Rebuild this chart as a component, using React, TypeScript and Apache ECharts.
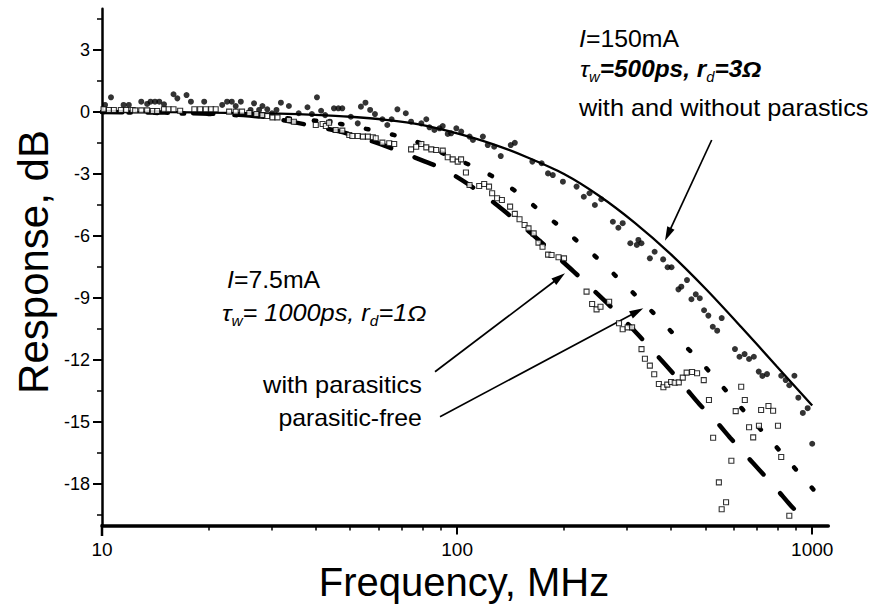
import React, { useEffect, useRef } from 'react';
import * as echarts from 'echarts';

const FONT = '"Liberation Sans", Arial, Helvetica, sans-serif';

// ---- axis ticks ----
const xMajorTicks = [10, 100, 1000];
const xMinorTicks = [20, 30, 40, 50, 60, 70, 80, 90, 200, 300, 400, 500, 600, 700, 800, 900];
const yMajorTicks = [-18, -15, -12, -9, -6, -3, 0, 3];
const yMinorTicks = [-19.5, -16.5, -13.5, -10.5, -7.5, -4.5, -1.5, 1.5, 4.5];
const X_MIN = 10;
const X_MAX = 1110;
const Y_MIN = -20;
const Y_MAX = 5;

// ---- I = 150 mA model (solid) ----
const fit150Freq = [10, 12.6, 15.8, 20, 25, 31.6, 39.8, 50, 63, 79.4, 100, 126, 158, 200, 251, 316, 398, 501, 631, 794, 1000];
const fit150Db = [0, -0.005, -0.01, -0.03, -0.05, -0.08, -0.14, -0.23, -0.38, -0.62, -1.03, -1.55, -2.2, -3.0, -4.05, -5.35, -6.85, -8.55, -10.4, -12.3, -14.2];

// ---- I = 7.5 mA, with parasitics model (dashed) ----
const withParFreq = [10, 15, 20, 25, 30, 38.7, 46.6, 55, 63, 72.5, 80, 89.4, 100, 111.5, 124, 138, 153, 170, 190, 213, 238, 265, 295, 326, 360, 398, 440, 482, 535, 588, 650, 712, 790, 865, 906];
const withParDb = [0, -0.03, -0.08, -0.15, -0.3, -0.65, -0.94, -1.3, -1.65, -2.06, -2.35, -2.69, -3.15, -3.68, -4.25, -4.89, -5.52, -6.2, -6.95, -7.72, -8.5, -9.26, -10.05, -10.84, -11.65, -12.48, -13.35, -14.15, -14.95, -15.77, -16.6, -17.34, -18.2, -18.99, -19.35];

// ---- I = 7.5 mA, parasitic-free model (dotted) ----
const parFreeFreq = [10, 20, 30, 40, 47, 54, 61, 70, 80, 90, 100, 117, 133, 151.5, 168.6, 200, 225, 254.7, 290, 330, 375, 424, 480, 539, 605, 679, 765, 856, 960, 1079];
const parFreeDb = [0, -0.1, -0.25, -0.42, -0.58, -0.78, -0.96, -1.22, -1.55, -1.95, -2.3, -2.81, -3.37, -4.02, -4.69, -5.7, -6.45, -7.24, -8.2, -9.13, -10.1, -11.06, -12.0, -12.98, -13.95, -14.93, -15.9, -16.87, -17.85, -18.85];

// ---- I = 150 mA measured (filled circles) ----
const meas150Freq = [10.2, 10.6, 11.5, 11.9, 12.9, 13.4, 13.7, 14.1, 14.5, 14.95, 15.9, 16.3, 17.3, 17.8, 19.4, 21.8, 22.5, 23.2, 23.8, 24.6, 26.2, 26.8, 27.7, 28.3, 29.2, 30.1, 31.0, 31.9, 33.6, 35.8, 37.9, 39.0, 40.3, 41.4, 42.5, 43.8, 45.0, 46.3, 47.5, 50.2, 52.5, 53.6, 55.2, 56.9, 58.7, 61.6, 63.6, 65.4, 67.9, 71.7, 74.2, 79.3, 81.9, 83.6, 86.3, 89.2, 91.1, 94.1, 96.2, 99.5, 102.7, 108.4, 110.8, 118.2, 122, 127.2, 132.7, 141.6, 145.4, 162.9, 173, 180.3, 186, 198.6, 217, 227.4, 236, 244.3, 254.7, 274.6, 284.5, 292.6, 307.4, 320.7, 324, 330.5, 349, 360, 380.4, 391.6, 401.6, 420, 428, 444, 457, 470, 482.5, 496, 510, 524.8, 540, 556, 606, 624, 645, 664, 685, 707, 724, 746, 818, 842, 862, 891, 914, 941, 971, 1000];
const meas150Db = [0.34, 0.71, 0.34, 0.34, 0.5, 0.39, 0.5, 0.5, 0.5, 0.37, 0.86, 0.66, 0.82, 0.5, 0.5, 0.34, 0.5, 0.5, 0.29, 0.5, 0.1, 0.42, 0.1, 0.29, 0.13, -0.06, 0.1, 0.45, 0.29, -0.06, 0.23, -0.1, 0.71, 0.06, -0.15, -0.47, 0.18, 0.18, 0.18, -0.23, -0.55, 0.26, 0.45, 0.1, -0.1, -0.35, -0.63, -0.35, 0.13, -0.06, -0.47, -0.55, -0.35, -0.74, -0.87, -0.79, -0.68, -1.06, -1.03, -0.79, -0.95, -1.19, -1.35, -1.19, -1.6, -1.68, -2.13, -1.6, -1.49, -2.4, -2.48, -2.97, -3.05, -3.37, -3.61, -4.1, -3.93, -4.5, -4.22, -5.31, -5.6, -5.38, -6.35, -6.43, -6.19, -6.35, -7.08, -6.76, -7.13, -7.51, -7.51, -8.58, -8.45, -8.13, -9.06, -8.82, -9.01, -9.59, -9.85, -10.39, -10.58, -9.97, -11.47, -11.84, -11.71, -11.95, -11.84, -12.56, -12.77, -12.68, -12.76, -12.97, -13.22, -12.76, -13.82, -14.56, -14.33, -16.05];

// ---- I = 7.5 mA measured (open squares) ----
const meas75Freq = [10.1, 10.46, 10.8, 11.3, 11.7, 12.2, 12.4, 12.9, 13.4, 13.9, 14.3, 14.95, 15.4, 15.9, 16.6, 18.2, 18.9, 19.6, 20.3, 20.9, 22.8, 23.8, 24.8, 26.0, 27.2, 28.3, 29.2, 30.2, 31.2, 33.6, 34.7, 40, 41.8, 42.7, 43.6, 45.5, 47.5, 49.7, 50.7, 52.5, 54.3, 56.1, 57.9, 59.0, 61.6, 64.4, 66.5, 74.2, 76.7, 79.3, 81.9, 84.6, 87.3, 91.1, 94.1, 97.2, 100.4, 102.6, 105.9, 108.4, 115.4, 119.2, 123, 125.5, 129.6, 133.7, 141, 145.4, 149.9, 154.9, 158.9, 164.3, 169.5, 174, 180.4, 184.5, 193, 200, 231.5, 240, 247, 253.4, 268, 285.7, 292.6, 302.2, 311, 330.6, 338, 349, 359, 370, 381, 390.6, 400.5, 410, 421, 432, 443, 459, 474, 495, 512, 526, 546, 556, 572, 592, 609, 631, 646, 664, 682, 708, 718, 753, 776, 801, 818, 862];
const meas75Db = [0.13, 0.1, 0.1, 0.1, 0.1, 0.1, 0.08, 0.08, 0.08, 0.05, 0.05, 0.13, 0.13, 0.13, 0.06, 0.13, 0.13, 0.13, 0.13, 0.13, 0.02, 0.02, 0.02, -0.05, -0.1, -0.15, -0.19, -0.26, -0.26, -0.39, -0.47, -0.63, -0.58, -0.68, -0.52, -0.87, -0.9, -1.11, -1.16, -1.16, -1.19, -1.19, -1.22, -1.27, -1.48, -1.51, -1.55, -1.81, -1.68, -1.55, -1.71, -1.81, -1.84, -1.87, -2.19, -2.29, -2.4, -2.29, -2.93, -3.53, -3.58, -3.48, -3.61, -3.93, -4.17, -4.26, -4.58, -4.93, -5.19, -5.47, -5.63, -5.87, -6.32, -6.52, -6.9, -6.92, -7.03, -7.08, -8.69, -9.29, -9.55, -9.42, -9.18, -10.22, -10.51, -10.42, -10.42, -11.47, -11.94, -12.27, -12.69, -13.16, -13.32, -13.19, -13.06, -13.1, -13.08, -12.85, -12.61, -12.58, -12.64, -12.97, -13.93, -15.76, -17.92, -19.22, -18.88, -16.87, -14.47, -13.29, -13.93, -15.25, -15.74, -15.18, -14.42, -14.22, -14.45, -15.18, -16.69, -19.53];

const lg = (f: number) => Math.log10(f);
const pairs = (fs: number[], ds: number[]) => fs.map((f, i) => [lg(f), ds[i]]);

type Seg = { t: string; it?: boolean; b?: boolean; sub?: boolean };

let measureCtx: CanvasRenderingContext2D | null = null;
function textWidth(text: string, style: string, weight: string, size: number) {
  if (!measureCtx) measureCtx = document.createElement('canvas').getContext('2d');
  if (!measureCtx) return text.length * size * 0.55;
  measureCtx.font = `${style} ${weight} ${size}px "Liberation Sans"`;
  return measureCtx.measureText(text).width;
}

function richLine(segs: Seg[], x0: number, baseline: number, align: 'left' | 'right', fs: number, subFs: number, sx: number) {
  const info = segs.map((s) => {
    const size = s.sub ? subFs : fs;
    const style = s.it ? 'italic' : 'normal';
    const weight = s.b ? 'bold' : 'normal';
    return { s, size, style, weight, w: textWidth(s.t, style, weight, size) * sx };
  });
  const total = info.reduce((a, b) => a + b.w, 0);
  let x = align === 'left' ? x0 : x0 - total;
  return info.map((o) => {
    const base = o.s.sub ? baseline + 5 : baseline;
    const el = {
      type: 'text',
      x,
      y: base - 0.35 * o.size,
      scaleX: sx,
      silent: true,
      style: {
        text: o.s.t,
        fill: '#000',
        fontSize: o.size,
        fontFamily: FONT,
        fontStyle: o.style,
        fontWeight: o.weight,
        textAlign: 'left',
        textVerticalAlign: 'middle',
      },
    };
    x += o.w;
    return el;
  });
}

function arrow(x1: number, y1: number, x2: number, y2: number) {
  const dx = x2 - x1;
  const dy = y2 - y1;
  const len = Math.hypot(dx, dy);
  const ux = dx / len;
  const uy = dy / len;
  const hl = 14;
  const hw = 4;
  const bx = x2 - ux * hl;
  const by = y2 - uy * hl;
  return [
    { type: 'line', silent: true, shape: { x1, y1, x2: bx + ux * 2, y2: by + uy * 2 }, style: { stroke: '#000', lineWidth: 1.7 } },
    {
      type: 'polygon',
      silent: true,
      shape: { points: [[x2, y2], [bx - uy * hw, by + ux * hw], [bx + uy * hw, by - ux * hw]] },
      style: { fill: '#000' },
    },
  ];
}

export default function App() {
  const ref = useRef<HTMLDivElement>(null);
  useEffect(() => {
    if (!ref.current) return;
    const chart = echarts.init(ref.current, undefined, { renderer: 'svg' });

    const FS = 23;
    const SUB = 14;
    const SX = 1.08;
    const graphics: any[] = [
      {
        type: 'text', x: 33, y: 262, rotation: Math.PI / 2, silent: true,
        style: { text: 'Response, dB', fill: '#000', fontSize: 42, fontFamily: FONT, textAlign: 'center', textVerticalAlign: 'middle' },
      },
      {
        type: 'text', x: 464, y: 582, silent: true,
        style: { text: 'Frequency, MHz', fill: '#000', fontSize: 40, fontFamily: FONT, textAlign: 'center', textVerticalAlign: 'middle' },
      },
      { type: 'line', silent: true, shape: { x1: 102, y1: 524, x2: 102, y2: 536 }, style: { stroke: '#000', lineWidth: 2.5 } },
      ...richLine([{ t: 'I', it: true }, { t: '=150mA' }], 579, 47, 'left', FS, SUB, SX),
      ...richLine([{ t: 'τ', it: true }, { t: 'w', it: true, sub: true }, { t: '=500ps, r', it: true, b: true }, { t: 'd', it: true, sub: true }, { t: '=3Ω', it: true, b: true }], 580, 77, 'left', FS, SUB, 1.06),
      ...richLine([{ t: 'with and without parastics' }], 579, 116, 'left', FS, SUB, 1.1),
      ...richLine([{ t: 'I', it: true }, { t: '=7.5mA' }], 227, 288, 'left', FS, SUB, SX),
      ...richLine([{ t: 'τ', it: true }, { t: 'w', it: true, sub: true }, { t: '= 1000ps, r', it: true }, { t: 'd', it: true, sub: true }, { t: '=1Ω', it: true }], 222, 321, 'left', FS, SUB, 1.1),
      ...richLine([{ t: 'with parasitics' }], 422, 393, 'right', FS, SUB, 1.1),
      ...richLine([{ t: 'parasitic-free' }], 422, 426, 'right', FS, SUB, SX),
      ...arrow(711.7, 140, 665, 240.7),
      ...arrow(435, 371.7, 565, 273.3),
      ...arrow(440, 416.7, 643.3, 308.3),
    ];

    const xBase = {
      type: 'value',
      min: lg(X_MIN),
      max: lg(X_MAX),
      position: 'bottom',
      splitLine: { show: false },
    };
    const yBase = {
      type: 'value',
      min: Y_MIN,
      max: Y_MAX,
      position: 'left',
      splitLine: { show: false },
    };

    chart.setOption({
      animation: false,
      backgroundColor: '#fff',
      grid: { left: 102, top: 8.65, width: 726.3, height: 516.75, containLabel: false, outerBoundsMode: 'none' },
      xAxis: [
        {
          ...xBase,
          axisLine: { show: true, onZero: false, lineStyle: { color: '#000', width: 3.5 } },
          axisTick: { show: true, inside: false, length: 9, customValues: xMajorTicks.map(lg), lineStyle: { color: '#000', width: 2 } },
          axisLabel: {
            show: true, customValues: xMajorTicks.map(lg), margin: 15, color: '#000', fontSize: 19, fontFamily: FONT,
            formatter: (v: number) => String(Math.round(Math.pow(10, v))),
          },
        },
        {
          ...xBase,
          axisLine: { show: false, onZero: false },
          axisTick: { show: true, inside: false, length: 5, customValues: xMinorTicks.map(lg), lineStyle: { color: '#000', width: 1.5 } },
          axisLabel: { show: false },
        },
      ],
      yAxis: [
        {
          ...yBase,
          axisLine: { show: true, onZero: false, lineStyle: { color: '#000', width: 2.5 } },
          axisTick: { show: true, inside: false, length: 9, customValues: yMajorTicks, lineStyle: { color: '#000', width: 2 } },
          axisLabel: { show: true, customValues: yMajorTicks, margin: 12, color: '#000', fontSize: 18, fontFamily: FONT },
        },
        {
          ...yBase,
          axisLine: { show: false, onZero: false },
          axisTick: { show: true, inside: false, length: 5, customValues: yMinorTicks, lineStyle: { color: '#000', width: 1.5 } },
          axisLabel: { show: false },
        },
      ],
      series: [
        {
          name: '150 mA model', type: 'line', xAxisIndex: 0, yAxisIndex: 0,
          data: pairs(fit150Freq, fit150Db), symbol: 'none', smooth: 0.3,
          lineStyle: { color: '#000', width: 2.3 }, z: 3,
        },
        {
          name: 'with parasitics', type: 'line', xAxisIndex: 0, yAxisIndex: 0,
          data: pairs(withParFreq, withParDb), symbol: 'none', smooth: 0.3,
          lineStyle: { color: '#000', width: 4.5, type: [20.5, 25], cap: 'round' }, z: 3,
        },
        {
          name: 'parasitic-free', type: 'line', xAxisIndex: 0, yAxisIndex: 0,
          data: pairs(parFreeFreq, parFreeDb), symbol: 'none', smooth: 0.3,
          lineStyle: { color: '#000', width: 4.5, type: [2.5, 24], cap: 'round' }, z: 3,
        },
        {
          name: '150 mA measured', type: 'scatter', xAxisIndex: 0, yAxisIndex: 0,
          data: pairs(meas150Freq, meas150Db), symbol: 'circle', symbolSize: 6,
          itemStyle: { color: '#000' }, z: 4,
        },
        {
          name: '7.5 mA measured', type: 'scatter', xAxisIndex: 0, yAxisIndex: 0,
          data: pairs(meas75Freq, meas75Db), symbol: 'rect', symbolSize: 5,
          itemStyle: { color: '#fff', borderColor: '#000', borderWidth: 1.1 }, z: 5,
        },
      ],
      graphic: graphics,
    });

    return () => chart.dispose();
  }, []);

  return <div ref={ref} style={{ position: 'absolute', left: 0, top: 0, width: 873, height: 606, background: '#fff' }} />;
}
